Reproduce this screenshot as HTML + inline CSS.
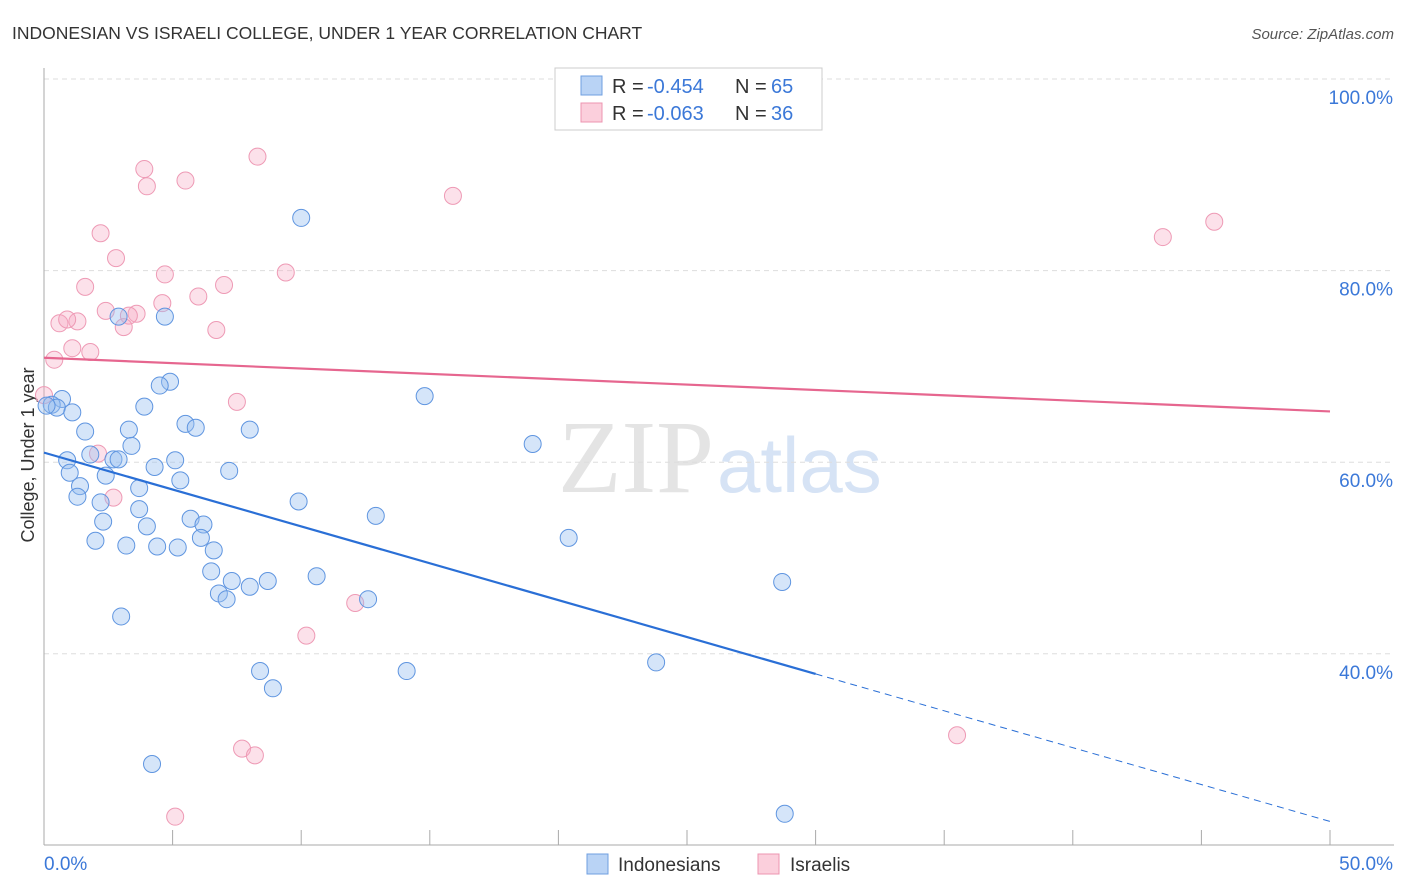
<!DOCTYPE html>
<html><head><meta charset="utf-8"><style>
body{margin:0;background:#fff;font-family:"Liberation Sans",sans-serif;}
#wrap{position:relative;width:1406px;height:892px;overflow:hidden;}
</style></head><body>
<div id="wrap">
<svg id="chart" width="1406" height="892" xmlns="http://www.w3.org/2000/svg">
<text x="12" y="39" font-size="17.5" fill="#333">INDONESIAN VS ISRAELI COLLEGE, UNDER 1 YEAR CORRELATION CHART</text>
<text x="1394" y="39" font-size="15" fill="#555" font-style="italic" text-anchor="end">Source: ZipAtlas.com</text>
<text x="714" y="492" font-size="104" fill="#e4e4e4" text-anchor="end" font-family="Liberation Serif,serif">ZIP</text>
<text x="717" y="492" font-size="78" fill="#d6e3f5">atlas</text>
<text x="34" y="455" font-size="18" fill="#333" text-anchor="middle" transform="rotate(-90 34 455)">College, Under 1 year</text>
<g id="grid"></g><g id="axes"></g><g id="pts"></g><g id="lines"></g>
<g>
<rect x="555" y="68" width="267" height="62" fill="#fff" stroke="#ccc"/>
<rect x="581" y="76" width="21" height="19" fill="#b9d3f5" stroke="#6f9fe0"/>
<rect x="581" y="103" width="21" height="19" fill="#fbcfdc" stroke="#ec94b0"/>
<text y="93" font-size="20" fill="#333"><tspan x="612">R =</tspan><tspan x="647" fill="#3b78d8">-0.454</tspan><tspan x="735">N =</tspan><tspan x="771" fill="#3b78d8">65</tspan></text>
<text y="120" font-size="20" fill="#333"><tspan x="612">R =</tspan><tspan x="647" fill="#3b78d8">-0.063</tspan><tspan x="735">N =</tspan><tspan x="771" fill="#3b78d8">36</tspan></text>
</g>
<g>
<rect x="587" y="854" width="21" height="20" fill="#b9d3f5" stroke="#6f9fe0"/>
<text x="618" y="871" font-size="19" fill="#333">Indonesians</text>
<rect x="758" y="854" width="21" height="20" fill="#fbcfdc" stroke="#ec94b0"/>
<text x="790" y="871" font-size="19" fill="#333">Israelis</text>
</g>
</svg>
</div>
<script>
const blueX=[10.0,2.9,4.7,4.9,4.5,14.8,0.7,0.3,0.5,0.1,1.1,3.9,1.6,3.3,5.5,5.9,8.0,3.4,19.0,1.8,2.7,2.9,0.9,5.1,4.3,7.2,1.0,2.4,5.3,3.7,1.4,1.3,2.2,9.9,3.7,2.3,5.7,4.0,6.2,12.9,2.0,3.2,4.4,5.2,6.1,6.6,20.4,6.5,7.3,8.7,10.6,8.0,6.8,7.1,12.6,28.7,3.0,8.4,14.1,23.8,8.9,4.2,28.8];
const blueY=[85.5,75.2,75.2,68.4,68.0,66.9,66.6,66.0,65.7,65.9,65.2,65.8,63.2,63.4,64.0,63.6,63.4,61.7,61.9,60.8,60.3,60.3,60.2,60.2,59.5,59.1,58.9,58.6,58.1,57.3,57.5,56.4,55.8,55.9,55.1,53.8,54.1,53.3,53.5,54.4,51.8,51.3,51.2,51.1,52.1,50.8,52.1,48.6,47.6,47.6,48.1,47.0,46.3,45.7,45.7,47.5,43.9,38.2,38.2,39.1,36.4,28.5,23.3];
const pinkX=[8.3,3.9,4.0,5.5,15.9,45.5,43.5,2.2,2.8,4.7,9.4,1.6,7.0,6.0,4.6,2.4,3.6,3.3,0.6,1.3,0.9,3.1,6.7,1.1,1.8,0.4,0.0,7.5,2.1,2.7,12.1,10.2,7.7,8.2,35.5,5.1];
const pinkY=[91.9,90.6,88.8,89.4,87.8,85.1,83.5,83.9,81.3,79.6,79.8,78.3,78.5,77.3,76.6,75.8,75.5,75.3,74.5,74.7,74.9,74.1,73.8,71.9,71.5,70.7,67.0,66.3,60.9,56.3,45.3,41.9,30.1,29.4,31.5,23.0];
const xTicks=[0,50], yTicks=[100,80,60,40];
const blueLine=[61.0,37.9], pinkLine=[70.9,65.3];
const xs=v=>44+v*25.72, ys=v=>79+(100-v)*9.58;
const NS='http://www.w3.org/2000/svg';
function mk(t,a,p){const e=document.createElementNS(NS,t);for(const k in a)e.setAttribute(k,a[k]);p.appendChild(e);return e;}
const grid=document.getElementById('grid'),axes=document.getElementById('axes'),pts=document.getElementById('pts'),lines=document.getElementById('lines');
yTicks.forEach(v=>{const l=mk('line',{x1:44,x2:1394,y1:ys(v),y2:ys(v),stroke:'#ddd','stroke-dasharray':'5,4'},grid);


const t=mk('text',{x:1393,y:ys(v)+25,'font-size':19,fill:'#3b78d8','text-anchor':'end'},axes);t.textContent=v.toFixed(1)+'%';

});
mk('line',{x1:44,x2:44,y1:68,y2:845,stroke:'#aaa'},axes);
mk('line',{x1:44,x2:1394,y1:845,y2:845,stroke:'#aaa'},axes);
for(let i=0;i<=10;i++){mk('line',{x1:xs(i*5),x2:xs(i*5),y1:830,y2:845,stroke:'#aaa'},axes);}
xTicks.forEach((v,i)=>{const t=mk('text',{x:i?1393:44,y:870,'font-size':19,fill:'#3b78d8','text-anchor':i?'end':'start'},axes);t.textContent=v.toFixed(1)+'%';

});
pinkX.forEach((x,i)=>{const c=mk('circle',{cx:xs(x),cy:ys(pinkY[i]),r:8.5,fill:'rgba(246,170,195,0.35)',stroke:'#ee9ab5','stroke-width':1},pts);

});
blueX.forEach((x,i)=>{const c=mk('circle',{cx:xs(x),cy:ys(blueY[i]),r:8.5,fill:'rgba(150,190,240,0.4)',stroke:'#5f95e0','stroke-width':1},pts);

});
const bEnd=30, slope=(blueLine[1]-blueLine[0])/bEnd;
let l1=mk('line',{x1:xs(0),y1:ys(blueLine[0]),x2:xs(bEnd),y2:ys(blueLine[1]),stroke:'#2a6fd6','stroke-width':2.2},lines);


let l2=mk('line',{x1:xs(bEnd),y1:ys(blueLine[1]),x2:xs(50),y2:ys(blueLine[0]+slope*50),stroke:'#2a6fd6','stroke-width':1,'stroke-dasharray':'7,5'},lines);


let l3=mk('line',{x1:xs(0),y1:ys(pinkLine[0]),x2:xs(50),y2:ys(pinkLine[1]),stroke:'#e6668f','stroke-width':2.2},lines);


</script>
</body></html>
